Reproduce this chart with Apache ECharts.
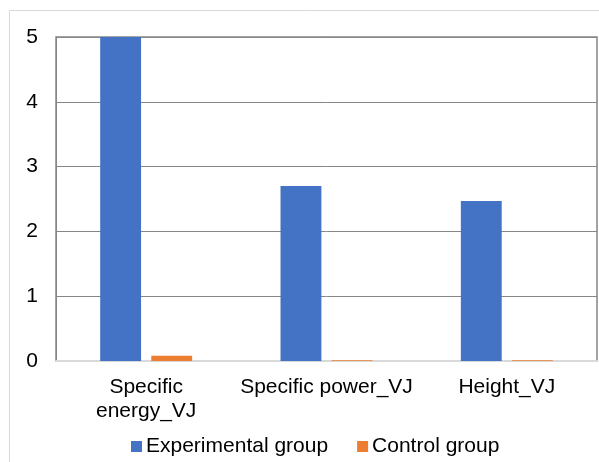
<!DOCTYPE html>
<html>
<head>
<meta charset="utf-8">
<script src="https://cdn.jsdelivr.net/npm/echarts@6/dist/echarts.min.js"></script>
<style>html,body{margin:0;padding:0;background:#fff}#c{width:599px;height:462px}</style>
</head>
<body>
<div id="c"></div>
<script>
var categories = ['Specific\nenergy_VJ', 'Specific power_VJ', 'Height_VJ'];
var seriesNames = ['Experimental group', 'Control group'];
var experimental = [5.0, 2.70, 2.47];
var control = [0.08, 0.01, 0.01];
var yTicks = [0, 1, 2, 3, 4, 5];

var chart = echarts.init(document.getElementById('c'), null, {renderer: 'canvas'});
var font = '"Liberation Sans", Arial, sans-serif';
chart.setOption({
  animation: false,
  backgroundColor: '#fff',
  graphic: [{
    type: 'rect', silent: true, z: -1,
    shape: {x: 9.5, y: 10.5, width: 620, height: 470},
    style: {fill: 'none', stroke: '#d9d9d9', lineWidth: 1}
  }],
  grid: {left: 56, right: 2, top: 37, bottom: 101, show: true, borderColor: '#868686', borderWidth: 1.5, backgroundColor: 'transparent'},
  legend: {
    data: seriesNames,
    left: 126, top: 431,
    itemWidth: 11, itemHeight: 11, itemGap: 29,
    icon: 'rect',
    textStyle: {fontFamily: font, fontSize: 21, color: '#000', padding: [0, 0, 0, -1]}
  },
  xAxis: {
    type: 'category',
    data: categories,
    axisLine: {show: true, lineStyle: {color: '#d9d9d9', width: 2}},
    axisTick: {show: false},
    axisLabel: {fontFamily: font, fontSize: 21, color: '#000', margin: 14, lineHeight: 24, interval: 0}
  },
  yAxis: {
    type: 'value',
    min: yTicks[0], max: yTicks[yTicks.length - 1], interval: 1,
    axisLine: {show: true, lineStyle: {color: '#868686', width: 1}},
    axisTick: {show: false},
    splitLine: {show: true, lineStyle: {color: '#868686', width: 1}},
    axisLabel: {fontFamily: font, fontSize: 21, color: '#000', margin: 18}
  },
  series: [
    {name: seriesNames[0], type: 'bar', data: experimental, barGap: '25%', barCategoryGap: '49%',
     itemStyle: {color: '#4472C4'}},
    {name: seriesNames[1], type: 'bar', data: control,
     itemStyle: {color: '#ED7D31'}}
  ]
});
</script>
</body>
</html>
